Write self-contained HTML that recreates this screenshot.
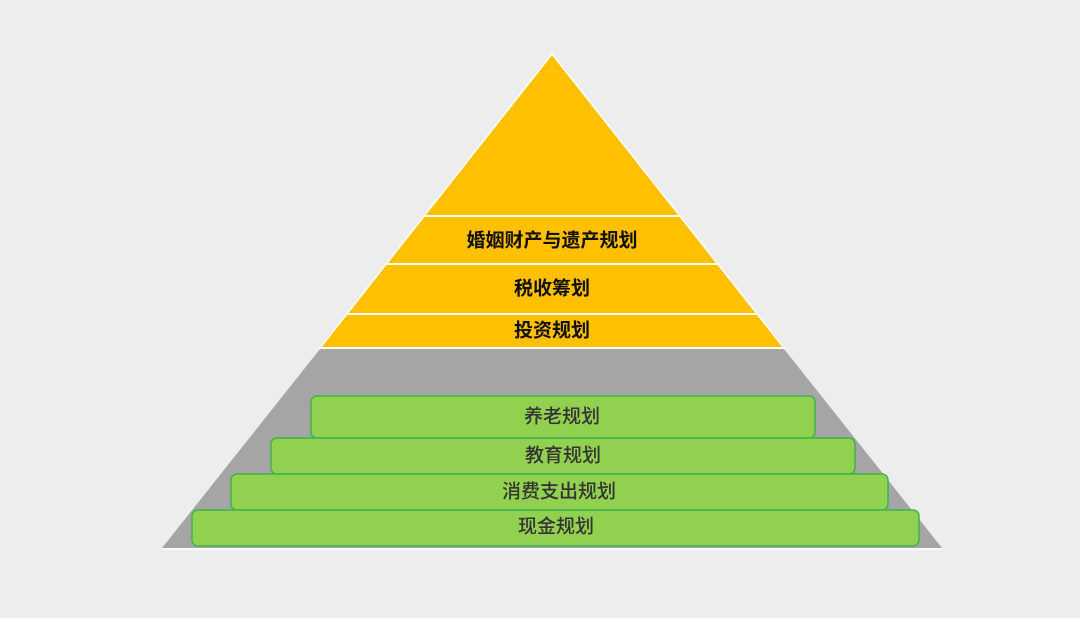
<!DOCTYPE html>
<html><head><meta charset="utf-8"><style>
html,body{margin:0;padding:0;background:#ededed;}
svg{display:block;}
text{font-family:"Liberation Sans","Noto Sans CJK SC",sans-serif;font-size:19px;text-anchor:middle;dominant-baseline:central;}
</style></head><body>
<svg width="1080" height="618" viewBox="0 0 1080 618">
<rect width="1080" height="618" fill="#ededed"/>
<polygon points="552,54 784,348 320,348" fill="#ffc000" stroke="#fff" stroke-width="1.5"/>
<polygon points="320,349 784,349 942,548 162,548" fill="#a5a5a5"/>
<line x1="162" y1="549" x2="942" y2="549" stroke="#fff" stroke-width="1.5"/>
<g stroke="#fff" stroke-width="2">
<line x1="423" y1="216" x2="681" y2="216"/>
<line x1="385" y1="264" x2="719" y2="264"/>
<line x1="346" y1="314" x2="758" y2="314"/>
<line x1="319" y1="348" x2="785" y2="348"/>
</g>
<g font-weight="bold" fill="#111">
<text x="552" y="241">婚姻财产与遗产规划</text>
<text x="552" y="289">税收筹划</text>
<text x="552" y="331">投资规划</text>
</g>
<g fill="#92d050" stroke="#3cb44b" stroke-width="1.5">
<rect x="311" y="396" width="504" height="42" rx="6"/>
<rect x="271" y="438" width="584" height="36" rx="6"/>
<rect x="231" y="474" width="657" height="36" rx="6"/>
<rect x="192" y="510" width="727" height="36" rx="6"/>
</g>
<g fill="#333" font-weight="500">
<text x="562" y="417">养老规划</text>
<text x="563" y="456">教育规划</text>
<text x="559" y="492">消费支出规划</text>
<text x="556" y="527">现金规划</text>
</g>
</svg>
</body></html>
